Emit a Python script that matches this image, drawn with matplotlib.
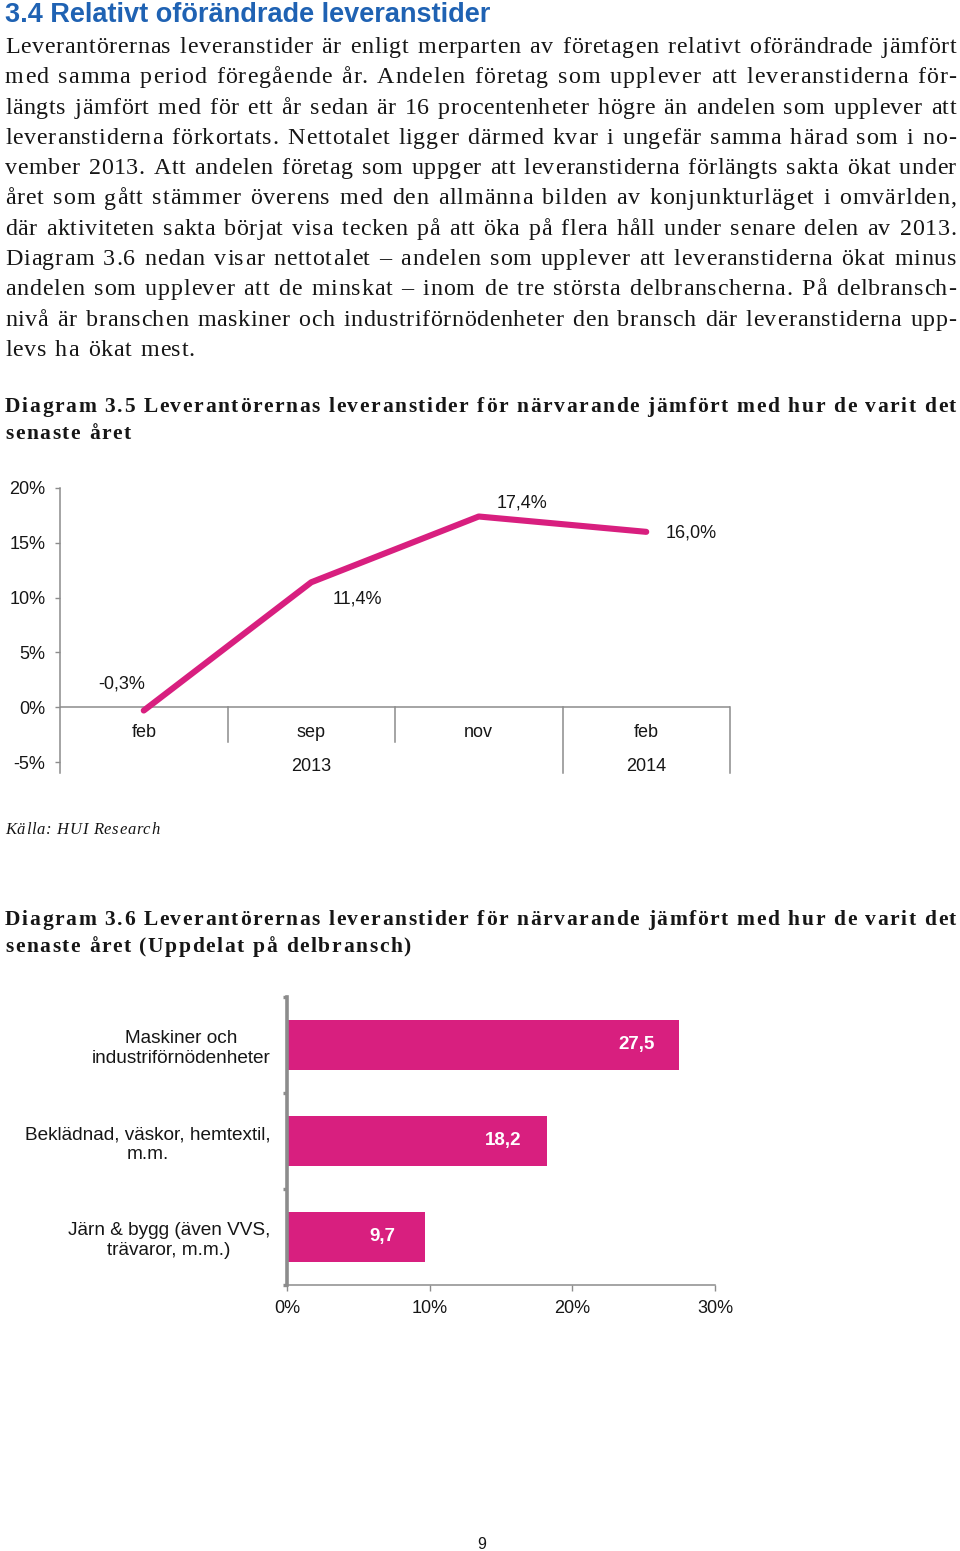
import matplotlib
matplotlib.use('Agg')
import matplotlib.pyplot as plt
from matplotlib.font_manager import FontProperties

W, H = 960, 1551
DPI = 100

# ---------------- data ----------------
heading = "3.4 Relativt oförändrade leveranstider"
body_lines = [
    "Leverantörernas leveranstider är enligt merparten av företagen relativt oförändrade jämfört",
    "med samma period föregående år. Andelen företag som upplever att leveranstiderna för-",
    "längts jämfört med för ett år sedan är 16 procentenheter högre än andelen som upplever att",
    "leveranstiderna förkortats. Nettotalet ligger därmed kvar i ungefär samma härad som i no-",
    "vember 2013. Att andelen företag som uppger att leveranstiderna förlängts sakta ökat under",
    "året som gått stämmer överens med den allmänna bilden av konjunkturläget i omvärlden,",
    "där aktiviteten sakta börjat visa tecken på att öka på flera håll under senare delen av 2013.",
    "Diagram 3.6 nedan visar nettotalet – andelen som upplever att leveranstiderna ökat minus",
    "andelen som upplever att de minskat – inom de tre största delbranscherna. På delbransch-",
    "nivå är branschen maskiner och industriförnödenheter den bransch där leveranstiderna upp-",
    "levs ha ökat mest.",
]
title1_lines = [
    "Diagram 3.5 Leverantörernas leveranstider för närvarande jämfört med hur de varit det",
    "senaste året",
]
source_text = "Källa: HUI Research"
title2_lines = [
    "Diagram 3.6 Leverantörernas leveranstider för närvarande jämfört med hur de varit det",
    "senaste året (Uppdelat på delbransch)",
]
page_number = "9"

line_categories = ["feb", "sep", "nov", "feb"]
line_years = ["2013", "2014"]
line_year_spans = [3, 1]
line_values = [-0.3, 11.4, 17.4, 16.0]
line_yticks = [-5, 0, 5, 10, 15, 20]

bar_categories = [
    "Maskiner och\nindustriförnödenheter",
    "Beklädnad, väskor, hemtextil,\nm.m.",
    "Järn & bygg (även VVS,\nträvaror, m.m.)",
]
bar_values = [27.5, 18.2, 9.7]
bar_xticks = [0, 10, 20, 30]

# ---------------- style ----------------
PINK = "#D81F7F"
GRAY = "#8C8C8C"
BLUE = "#1F62B3"
TXT = "#161616"
SANS = "Liberation Sans"
SERIF = "Liberation Serif"

fig = plt.figure(figsize=(W / DPI, H / DPI), dpi=DPI)
fig.patch.set_facecolor("white")
renderer = fig.canvas.get_renderer()


def fx(x):
    return x / W


def fy(y):
    return 1 - y / H


_cache = {}


def ink_w(s, fp):
    key = (s, fp.get_family()[0], fp.get_size(), fp.get_weight(), fp.get_style())
    if key not in _cache:
        w, h, d = renderer.get_text_width_height_descent(s, fp, ismath=False)
        _cache[key] = w
    return _cache[key]


def draw_word(word, x, baseline, t, fp, color):
    """draw one word char by char with tracking t (px); returns drawn width"""
    for k, ch in enumerate(word):
        pos = ink_w(word[:k + 1], fp) - ink_w(ch, fp) + k * t
        fig.text(fx(x + pos), fy(baseline), ch, va="baseline", ha="left",
                 fontproperties=fp, color=color)
    return ink_w(word, fp) + (len(word) - 1) * t


def tracked_line(s, x0, x1, baseline, fp, color=TXT, t=None, wgap=1.0):
    words = s.split(" ")
    sp = ink_w("a a", fp) - ink_w("aa", fp)
    widths = [ink_w(w, fp) for w in words]
    n = len(words)
    if t is None:
        slots = sum(len(w) - 1 for w in words) + 2 * (n - 1)
        t = (x1 - x0 - sum(widths) - (n - 1) * sp * wgap) / slots
    x = x0
    for w in words:
        wd = draw_word(w, x, baseline, t, fp, color)
        x += wd + sp * wgap + 2 * t
    return t


# heading
fig.text(fx(5), fy(22), heading, va="baseline", ha="left", color=BLUE,
         fontsize=19.5, fontweight="bold", family=SANS)

# body
body_fp = FontProperties(family=SERIF, size=17.3)
ts = []
for i, ln in enumerate(body_lines[:-1]):
    ts.append(tracked_line(ln, 5, 956, 53 + i * 30.3, body_fp, wgap=1.3))
tracked_line(body_lines[-1], 5, 956, 53 + (len(body_lines) - 1) * 30.3, body_fp,
             t=sum(ts) / len(ts), wgap=1.3)

# diagram titles
title_fp = FontProperties(family=SERIF, size=15.5, weight="bold")
t1 = tracked_line(title1_lines[0], 5, 956, 412, title_fp)
tracked_line(title1_lines[1], 5, 956, 439, title_fp, t=t1)
t2 = tracked_line(title2_lines[0], 5, 956, 925, title_fp)
tracked_line(title2_lines[1], 5, 956, 952, title_fp, t=t2)

# source
src_fp = FontProperties(family=SERIF, size=12, style="italic")
tracked_line(source_text, 5, 956, 834, src_fp, t=0.7)

# page number
fig.text(fx(482), fy(1549), page_number, va="baseline", ha="center",
         fontsize=11.5, family=SANS, color=TXT)

# ---------------- line chart ----------------
ax1 = fig.add_axes([fx(60), fy(773), (730 - 60) / W, (773 - 488) / H])
ax1.set_xlim(0, len(line_categories))
ax1.set_ylim(-6, 20)
xs = [i + 0.5 for i in range(len(line_values))]
ax1.plot(xs, line_values, color=PINK, lw=4.4, solid_capstyle="round",
         solid_joinstyle="round", zorder=3)
for s in ["top", "right", "bottom"]:
    ax1.spines[s].set_visible(False)
ax1.spines["left"].set_color(GRAY)
ax1.spines["left"].set_linewidth(1.1)
ax1.axhline(0, color=GRAY, lw=1.1, zorder=1)
ax1.set_xticks([])
ax1.set_yticks(line_yticks)
ax1.set_yticklabels([f"{v}%" for v in line_yticks])
ax1.tick_params(axis="y", length=3.6, width=1, color=GRAY, pad=7,
                labelsize=13, labelcolor=TXT)
for lab in ax1.get_yticklabels():
    lab.set_family(SANS)

# category dividers
year_bounds = []
acc = 0
for sp_ in line_year_spans:
    acc += sp_
    year_bounds.append(acc)
for b in range(1, len(line_categories) + 1):
    low = -6 if b in year_bounds else -3.2
    ax1.plot([b, b], [0, low], color=GRAY, lw=1.1, clip_on=False, zorder=1)
for x, c in zip(xs, line_categories):
    ax1.text(x, -2.3, c, ha="center", va="center", fontsize=13, family=SANS, color=TXT)
start = 0
for yr, sp_ in zip(line_years, line_year_spans):
    ax1.text(start + sp_ / 2, -5.4, yr, ha="center", va="center", fontsize=13,
             family=SANS, color=TXT)
    start += sp_

label_offsets = [(-16, 19), (33, -12), (31, 10), (32, -1)]
for x, v, off in zip(xs, line_values, label_offsets):
    ax1.annotate(f"{v:.1f}%".replace(".", ","), (x, v), xytext=off,
                 textcoords="offset points", ha="center", va="center",
                 fontsize=13, family=SANS, color=TXT)

# ---------------- bar chart ----------------
ax2 = fig.add_axes([fx(287), fy(1285), (715 - 287) / W, (1285 - 997) / H])
ypos = list(range(len(bar_values)))
ax2.barh(ypos, bar_values, height=0.52, color=PINK, zorder=2)
ax2.set_xlim(bar_xticks[0], bar_xticks[-1])
ax2.set_ylim(len(bar_values) - 0.5, -0.5)
for s in ["top", "right"]:
    ax2.spines[s].set_visible(False)
ax2.spines["left"].set_color(GRAY)
ax2.spines["left"].set_linewidth(2.6)
ax2.spines["bottom"].set_color(GRAY)
ax2.spines["bottom"].set_linewidth(1.1)
ax2.set_yticks(ypos)
ax2.set_yticklabels(bar_categories, multialignment="center", family=SANS,
                    fontsize=13.7, color=TXT, linespacing=1.25)
ax2.set_yticks([p - 0.5 for p in ypos] + [ypos[-1] + 0.5], minor=True)
ax2.tick_params(axis="y", which="major", length=0, pad=12)
ax2.tick_params(axis="y", which="minor", length=3, width=2.4, color=GRAY)
ax2.set_xticks(bar_xticks)
ax2.set_xticklabels([f"{v}%" for v in bar_xticks], family=SANS, fontsize=13, color=TXT)
ax2.tick_params(axis="x", length=4, width=1, color=GRAY, pad=7)
for y, v in zip(ypos, bar_values):
    ax2.annotate(f"{v:.1f}".replace(".", ","), (v, y), xytext=(-31, 0),
                 textcoords="offset points", ha="center", va="center",
                 fontsize=13.5, fontweight="bold", family=SANS, color="white")

fig.savefig("out.png", dpi=DPI, facecolor="white")
